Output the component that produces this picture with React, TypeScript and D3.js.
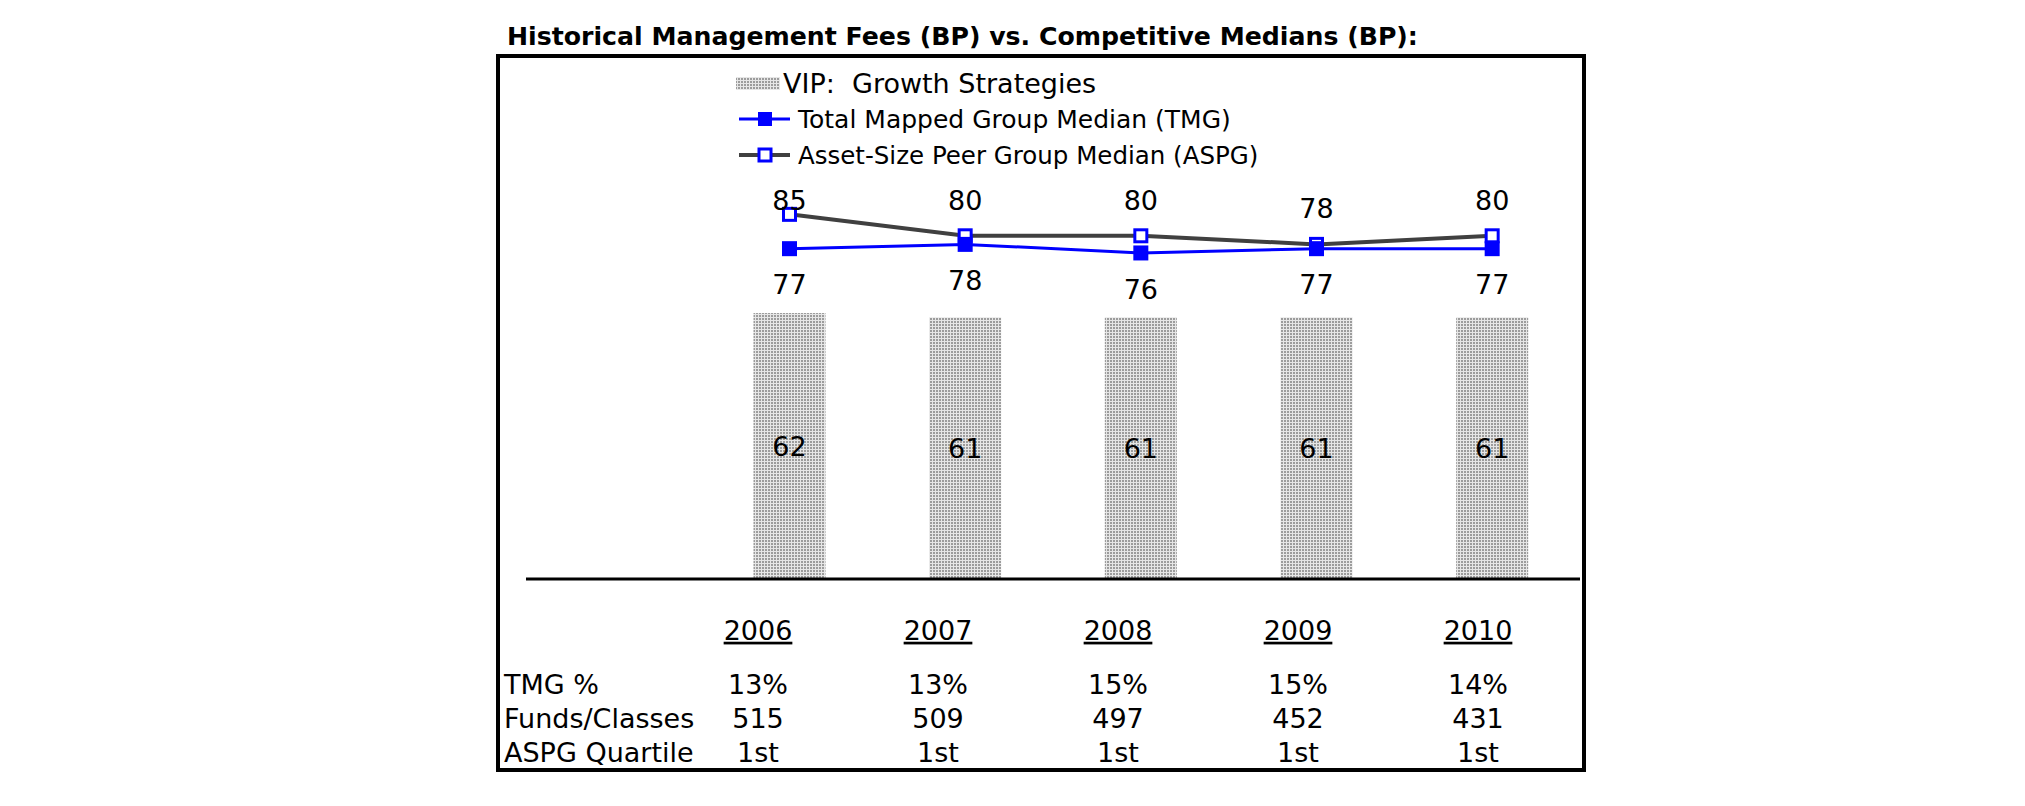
import React from "react";
import * as d3 from "d3";

const years = ["2006", "2007", "2008", "2009", "2010"];
const vipValues = [62, 61, 61, 61, 61];
const tmgValues = [77, 78, 76, 77, 77];
const aspgValues = [85, 80, 80, 78, 80];
const tmgPct = ["13%", "13%", "15%", "15%", "14%"];
const fundsClasses = ["515", "509", "497", "452", "431"];
const aspgQuartile = ["1st", "1st", "1st", "1st", "1st"];
const tableRowLabels = ["TMG %", "Funds/Classes", "ASPG Quartile"];
const legendLabels = [
  "VIP:  Growth Strategies",
  "Total Mapped Group Median (TMG)",
  "Asset-Size Peer Group Median (ASPG)",
];
const title = "Historical Management Fees (BP) vs. Competitive Medians (BP):";

const W = 2025;
const H = 806;
const FONT = "'DejaVu Sans', Verdana, sans-serif";
const FS = 27;
const BLUE = "#0000FF";
const GRAY = "#404040";

export default function App() {
  // x: a leading empty category, then the years
  const x = d3
    .scaleBand<string>()
    .domain(["", ...years])
    .range([526, 1580])
    .paddingInner(0.59)
    .paddingOuter(0.295);
  const y = d3.scaleLinear().domain([0, 100]).range([579, 150]);
  const cx = (yr: string) => (x(yr) as number) + x.bandwidth() / 2;

  const tableX = d3.scalePoint<string>().domain(years).range([758, 1478]);

  const tmgLine = d3
    .line<number>()
    .x((_, i) => cx(years[i]))
    .y((d) => y(d));
  const aspgLine = d3
    .line<number>()
    .x((_, i) => cx(years[i]))
    .y((d) => y(d));

  const ms = 15;
  const baseOff = FS * 0.36;
  const LFS = 25;

  const tableRows = [tmgPct, fundsClasses, aspgQuartile];
  const rowY = [684, 718, 752];

  return (
    <svg
      width={W}
      height={H}
      style={{ position: "absolute", left: 0, top: 0, background: "#fff", whiteSpace: "pre" }}
      fontFamily={FONT}
      xmlSpace="preserve"
    >
      <defs>
        <pattern id="dots" width="3" height="3" patternUnits="userSpaceOnUse">
          <rect width="3" height="3" fill="#e6e6e6" />
          <rect width="2" height="2" fill="#9c9c9c" />
        </pattern>
      </defs>
      <rect width={W} height={H} fill="#fff" />

      <text x={507} y={45} fontSize={25.2} fontWeight="bold" fill="#000">
        {title}
      </text>

      <rect x={498} y={56} width={1086} height={714} fill="none" stroke="#000" strokeWidth={4} />

      {/* legend */}
      <rect x={736} y={77} width={44} height={13} fill="url(#dots)" />
      <text x={783} y={83 + baseOff} fontSize={FS} style={{ whiteSpace: "pre" }}>{legendLabels[0]}</text>
      <line x1={739} x2={790} y1={119} y2={119} stroke={BLUE} strokeWidth={3} />
      <rect x={765 - 7} y={119 - 7} width={14} height={14} fill={BLUE} />
      <text x={798} y={119 + LFS * 0.36} fontSize={LFS}>{legendLabels[1]}</text>
      <line x1={739} x2={790} y1={155} y2={155} stroke={GRAY} strokeWidth={4} />
      <rect x={765 - 6} y={155 - 6} width={12} height={12} fill="#fff" stroke={BLUE} strokeWidth={3} />
      <text x={798} y={155 + LFS * 0.36} fontSize={LFS - 0.5}>{legendLabels[2]}</text>

      {/* bars */}
      {vipValues.map((v, i) => (
        <g key={"b" + i}>
          <rect
            x={x(years[i])}
            y={y(v)}
            width={x.bandwidth()}
            height={y(0) - y(v)}
            fill="url(#dots)"
          />
          <text
            x={cx(years[i])}
            y={(y(v) + y(0)) / 2 + baseOff}
            fontSize={FS}
            textAnchor="middle"
          >
            {v}
          </text>
        </g>
      ))}

      {/* baseline */}
      <line x1={526} x2={1580} y1={y(0)} y2={y(0)} stroke="#000" strokeWidth={3} />

      {/* lines */}
      <path d={aspgLine(aspgValues) || ""} fill="none" stroke={GRAY} strokeWidth={4} />
      <path d={tmgLine(tmgValues) || ""} fill="none" stroke={BLUE} strokeWidth={3} />
      {aspgValues.map((v, i) => (
        <rect
          key={"am" + i}
          x={cx(years[i]) - (ms - 3) / 2}
          y={y(v) - (ms - 3) / 2}
          width={ms - 3}
          height={ms - 3}
          fill="#fff"
          stroke={BLUE}
          strokeWidth={3}
        />
      ))}
      {tmgValues.map((v, i) => (
        <rect
          key={"tm" + i}
          x={cx(years[i]) - ms / 2}
          y={y(v) - ms / 2}
          width={ms}
          height={ms}
          fill={BLUE}
        />
      ))}

      {/* labels */}
      {aspgValues.map((v, i) => (
        <text
          key={"al" + i}
          x={cx(years[i])}
          y={Math.max(y(v) - 36, 200) + baseOff}
          fontSize={FS}
          textAnchor="middle"
        >
          {v}
        </text>
      ))}
      {tmgValues.map((v, i) => (
        <text
          key={"tl" + i}
          x={cx(years[i])}
          y={y(v) + 36 + baseOff}
          fontSize={FS}
          textAnchor="middle"
        >
          {v}
        </text>
      ))}

      {/* table */}
      {years.map((yr) => (
        <text
          key={"yr" + yr}
          x={tableX(yr)}
          y={630 + baseOff}
          fontSize={FS}
          textAnchor="middle"
          textDecoration="underline"
        >
          {yr}
        </text>
      ))}
      {tableRowLabels.map((lab, r) => (
        <text key={"rl" + r} x={504} y={rowY[r] + baseOff} fontSize={FS}>
          {lab}
        </text>
      ))}
      {tableRows.map((row, r) =>
        row.map((val, i) => (
          <text
            key={"c" + r + "-" + i}
            x={tableX(years[i])}
            y={rowY[r] + baseOff}
            fontSize={FS}
            textAnchor="middle"
          >
            {val}
          </text>
        ))
      )}
    </svg>
  );
}
